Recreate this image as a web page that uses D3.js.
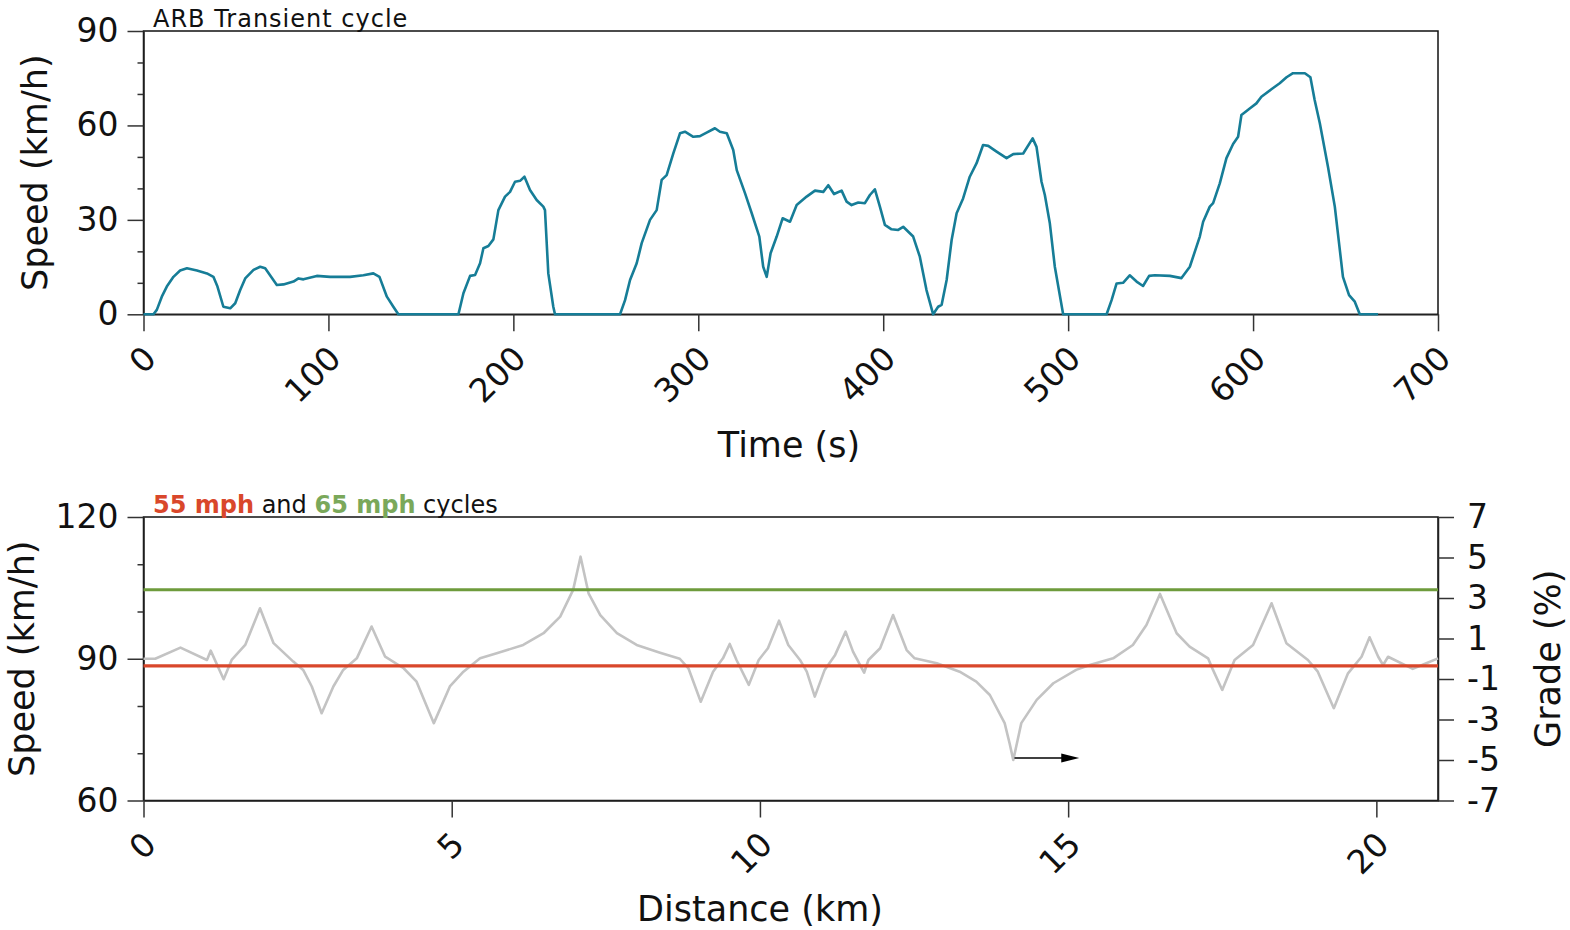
<!DOCTYPE html>
<html>
<head>
<meta charset="utf-8">
<script src="https://cdn.jsdelivr.net/npm/d3@7"></script>
<style>
  html, body { margin: 0; padding: 0; background: #fff; }
  svg { display: block; font-family: "DejaVu Sans", sans-serif; }
</style>
</head>
<body>
<svg id="chart" width="1570" height="930"></svg>
<script>
// ARB transient cycle: time (s) and speed (km/h)
const arbTime = [0,5.4,7.2,9.9,12.6,16.2,19.8,23.5,28.9,34.3,37.8,40,43.2,46.9,49.6,52.3,55,59.5,63.1,65.8,72.1,75.7,81.1,83.8,86.5,93.7,100.9,111.7,118.9,124.3,127.6,131.6,135.1,137.8,170.3,173,176.6,179.3,182,183.8,186.5,189.2,191.9,195.5,198.2,200.9,203.6,206,209,212.6,216.2,217.1,218.9,221.6,222.5,257.7,260.4,263.1,266.7,269.4,273.9,277.5,280.2,282.9,286.5,290.1,292.8,297.3,300.9,304.5,309,311.7,315.4,318.9,320.8,325.3,328.9,333,335.1,337,339.1,342.4,345.6,349.6,353.2,358.6,363.1,367.6,370.3,373.4,377.5,380.2,382.9,386.5,390.1,392.8,395.5,398.2,400.9,404.5,408.1,410.8,416.2,419.8,423.4,427,429.7,431.6,434.3,437,439.7,443.2,446.8,450.5,454,456.8,461.3,466.7,470.3,475.7,480.8,482.9,485.6,487.4,490.1,492.8,497.3,520.8,523.5,526.2,529.7,533.3,537,540.5,543.8,546.9,555,561.3,565.8,571.2,573,576.6,578.4,582,585.6,589.2,591.9,593.7,598.2,601.8,604.5,609.9,614.4,618.1,621.6,628,631,633.3,636.1,640.5,644.2,648.6,651.9,655,657.7,667.6];
const arbSpeed = [0,0,1.4,5.6,8.8,11.9,13.9,14.6,13.9,13.0,11.9,8.8,2.4,1.9,3.5,7.7,11.4,14.1,15.1,14.6,9.3,9.5,10.4,11.4,11.1,12.2,11.9,11.9,12.4,13.0,11.9,5.6,2.4,0,0,6.7,12.2,12.5,16.2,21,21.7,23.8,33.1,37.4,38.9,42.1,42.4,43.7,39.5,36.3,34.2,33.1,13.0,2.4,0,0,4.5,10.9,16.2,22.6,30.0,33.1,42.7,44.2,51.1,57.5,58,56.4,56.6,57.7,59.1,58,57.5,52.2,45.8,38.4,32.1,24.7,15.1,11.9,19.4,24.7,30.5,29.4,34.7,37.4,39.3,38.9,41.0,38.2,39.3,35.8,34.7,35.5,35.3,37.9,39.7,34.2,28.4,27.0,26.8,27.8,24.7,18.3,7.7,0,2.4,3.0,10.9,23.6,32.1,36.8,43.7,48.0,53.8,53.5,51.7,49.6,50.9,51.1,55.9,53.2,42.1,37.9,28.9,15.1,0,0,4.5,9.8,10.0,12.4,10.4,9.0,12.2,12.4,12.2,11.5,15.1,24.7,29.4,34.2,35.3,41.6,49.6,54.1,56.4,63.3,65.4,67.0,69.1,71.5,73.4,75.3,76.6,76.6,75.3,68.1,60.7,46.9,34.2,11.9,6.1,4.0,0,0];

// Road grade along the 55/65 mph route: distance (km) and grade (%)
const gradeDist = [0,0.19,0.6,1.03,1.09,1.30,1.43,1.65,1.89,2.11,2.43,2.59,2.73,2.89,3.08,3.24,3.46,3.70,3.92,4.22,4.43,4.71,4.97,5.19,5.46,5.73,6.16,6.49,6.76,6.97,7.09,7.22,7.41,7.68,8.0,8.38,8.70,8.84,9.04,9.24,9.40,9.51,9.62,9.82,9.98,10.13,10.31,10.46,10.65,10.76,10.89,11.05,11.22,11.39,11.51,11.69,11.76,11.95,12.16,12.38,12.51,12.87,13.24,13.51,13.73,13.97,14.05,14.11,14.24,14.49,14.76,15.13,15.35,15.73,16.05,16.27,16.49,16.76,16.97,17.27,17.35,17.50,17.70,18.0,18.30,18.54,18.89,19.05,19.31,19.54,19.76,19.89,20.03,20.11,20.19,20.59,20.81,21.0];
const gradePct = [0,0,0.55,-0.06,0.4,-1.01,-0.06,0.68,2.49,0.77,-0.14,-0.55,-1.37,-2.69,-1.37,-0.55,0.02,1.59,0.1,-0.47,-1.13,-3.18,-1.37,-0.64,0.02,0.27,0.68,1.26,2.08,3.4,5.04,3.23,2.16,1.26,0.68,0.3,0,-0.47,-2.12,-0.64,0.02,0.73,-0.06,-1.29,-0.06,0.52,1.88,0.68,-0.06,-0.64,-1.87,-0.55,0.19,1.34,0.35,-0.69,-0.06,0.52,2.16,0.43,0.02,-0.22,-0.64,-1.13,-1.79,-3.18,-4.17,-5.0,-3.18,-2.03,-1.21,-0.55,-0.31,0.02,0.68,1.67,3.2,1.26,0.6,0.02,-0.55,-1.54,-0.06,0.68,2.74,0.77,-0.06,-0.64,-2.44,-0.72,0.1,1.06,0.1,-0.31,0.1,-0.5,-0.22,0.02];

// Constant-speed cycles (km/h)
const cycleNames = ["55 mph", "65 mph"];
const cycleSpeeds = [88.5, 104.6];
const cycleDist = [0, 21];

// Tick values
const timeTicks = [0,100,200,300,400,500,600,700];
const speedTicksTop = [0,30,60,90];
const speedMinorTop = [10,20,40,50,70,80];
const distTicks = [0,5,10,15,20];
const speedTicksBottom = [60,90,120];
const speedMinorBottom = [70,80,100,110];
const gradeTicks = [7,5,3,1,-1,-3,-5,-7];
const arrowSpan = [14.13, 15.18, -4.9];

const svg = d3.select("#chart");
const TICK_FS = 33, TITLE_FS = 35;
const colTeal = "#167d97", colRed = "#d9472b", colGreen = "#6e9b3c", colGrey = "#c3c3c3";

const left = 143.5, right = 1438;

function styleAxis(g) {
  g.selectAll("path.domain").attr("stroke", "#222").attr("stroke-width", 1.5);
  g.selectAll(".tick line").attr("stroke", "#333").attr("stroke-width", 1.5);
  g.selectAll(".tick text").attr("font-size", TICK_FS).attr("fill", "#111")
    .attr("font-family", "DejaVu Sans, sans-serif");
}
function rotateX(g) {
  g.selectAll(".tick text")
    .attr("x", 0).attr("y", 0).attr("dy", 0)
    .attr("text-anchor", "end")
    .attr("transform", "translate(14,46) rotate(-45)");
}

// ---------- Upper panel: ARB transient cycle ----------
const xT = d3.scaleLinear().domain([0, 700]).range([left, right]);
const yT = d3.scaleLinear().domain([0, 90]).range([314.3, 31]);

const panelA = svg.append("g");
panelA.append("rect").attr("x", left).attr("y", yT(90))
  .attr("width", right - left).attr("height", yT(0) - yT(90))
  .attr("fill", "none").attr("stroke", "#111").attr("stroke-width", 1.5);

panelA.append("g").attr("transform", `translate(${left},0)`)
  .call(d3.axisLeft(yT).tickValues(speedMinorTop).tickSize(6).tickFormat(""))
  .call(g => g.select(".domain").remove())
  .call(styleAxis);
panelA.append("g").attr("transform", `translate(${left},0)`)
  .call(d3.axisLeft(yT).tickValues(speedTicksTop).tickSize(16).tickPadding(9).tickSizeOuter(0))
  .call(styleAxis);
panelA.append("g").attr("transform", `translate(0,${yT(0)})`)
  .call(d3.axisBottom(xT).tickValues(timeTicks).tickSize(17).tickSizeOuter(0))
  .call(styleAxis).call(rotateX);

const lineT = d3.line().x(d => xT(d[0])).y(d => yT(d[1]));
panelA.append("path")
  .datum(arbTime.map((t, i) => [t, arbSpeed[i]]))
  .attr("d", lineT).attr("fill", "none")
  .attr("stroke", colTeal).attr("stroke-width", 2.6)
  .attr("stroke-linejoin", "round");

panelA.append("text").attr("x", 153).attr("y", 26.5)
  .attr("font-size", 24).attr("letter-spacing", 1).attr("fill", "#111").text("ARB Transient cycle");
panelA.append("text").attr("x", 789).attr("y", 457)
  .attr("text-anchor", "middle").attr("font-size", TITLE_FS).attr("fill", "#111")
  .text("Time (s)");
panelA.append("text").attr("transform", `translate(47,${(yT(0)+yT(90))/2}) rotate(-90)`)
  .attr("text-anchor", "middle").attr("font-size", TITLE_FS).attr("fill", "#111")
  .text("Speed (km/h)");

// ---------- Lower panel: 55 / 65 mph cycles with grade ----------
const xB = d3.scaleLinear().domain([0, 21]).range([left, right]);
const yB = d3.scaleLinear().domain([60, 120]).range([800.5, 517]);
const yG = d3.scaleLinear().domain([-7, 7]).range([800.5, 517]);

const panelB = svg.append("g");
panelB.append("rect").attr("x", left).attr("y", yB(120))
  .attr("width", right - left).attr("height", yB(60) - yB(120))
  .attr("fill", "none").attr("stroke", "#111").attr("stroke-width", 1.5);

panelB.append("g").attr("transform", `translate(${left},0)`)
  .call(d3.axisLeft(yB).tickValues(speedMinorBottom).tickSize(6).tickFormat(""))
  .call(g => g.select(".domain").remove())
  .call(styleAxis);
panelB.append("g").attr("transform", `translate(${left},0)`)
  .call(d3.axisLeft(yB).tickValues(speedTicksBottom).tickSize(16).tickPadding(9).tickSizeOuter(0))
  .call(styleAxis);
panelB.append("g").attr("transform", `translate(${right},0)`)
  .call(d3.axisRight(yG).tickValues(gradeTicks).tickSize(16).tickPadding(13).tickSizeOuter(0))
  .call(styleAxis)
  .call(g => g.selectAll(".tick text").text(d => d < 0 ? "-" + Math.abs(d) : d));
panelB.append("g").attr("transform", `translate(0,${yB(60)})`)
  .call(d3.axisBottom(xB).tickValues(distTicks).tickSize(17).tickSizeOuter(0))
  .call(styleAxis).call(rotateX);

// grade profile (right axis)
const lineG = d3.line().x(d => xB(d[0])).y(d => yG(d[1]));
panelB.append("path")
  .datum(gradeDist.map((x, i) => [x, gradePct[i]]))
  .attr("d", lineG).attr("fill", "none")
  .attr("stroke", colGrey).attr("stroke-width", 2.6)
  .attr("stroke-linejoin", "round");

// constant-speed cycles (left axis)
const lineB = d3.line().x(d => xB(d[0])).y(d => yB(d[1]));
cycleSpeeds.forEach((s, i) => {
  panelB.append("path")
    .datum(cycleDist.map(x => [x, s]))
    .attr("d", lineB).attr("fill", "none")
    .attr("stroke", i === 0 ? colRed : colGreen).attr("stroke-width", 3.2);
});

// arrow pointing to the grade axis
const ay = yG(arrowSpan[2]);
panelB.append("line")
  .attr("x1", xB(arrowSpan[0])).attr("x2", xB(arrowSpan[1]) - 14)
  .attr("y1", ay).attr("y2", ay)
  .attr("stroke", "#000").attr("stroke-width", 1.3);
panelB.append("path")
  .attr("d", `M${xB(arrowSpan[1])},${ay} L${xB(arrowSpan[1]) - 18},${ay - 4.5} L${xB(arrowSpan[1]) - 18},${ay + 4.5} Z`)
  .attr("fill", "#000");

// titles
const ttl = panelB.append("text").attr("x", 153).attr("y", 512.5).attr("font-size", 24).attr("fill", "#111");
ttl.append("tspan").attr("fill", colRed).attr("font-weight", "bold").text(cycleNames[0]);
ttl.append("tspan").text(" and ");
ttl.append("tspan").attr("fill", "#7aa85a").attr("font-weight", "bold").text(cycleNames[1]);
ttl.append("tspan").text(" cycles");

panelB.append("text").attr("x", 760).attr("y", 921)
  .attr("text-anchor", "middle").attr("font-size", TITLE_FS).attr("fill", "#111")
  .text("Distance (km)");
panelB.append("text").attr("transform", `translate(34,${(yB(60)+yB(120))/2}) rotate(-90)`)
  .attr("text-anchor", "middle").attr("font-size", TITLE_FS).attr("fill", "#111")
  .text("Speed (km/h)");
panelB.append("text").attr("transform", `translate(1560,${(yB(60)+yB(120))/2}) rotate(-90)`)
  .attr("text-anchor", "middle").attr("font-size", TITLE_FS).attr("fill", "#111")
  .text("Grade (%)");
</script>
</body>
</html>
